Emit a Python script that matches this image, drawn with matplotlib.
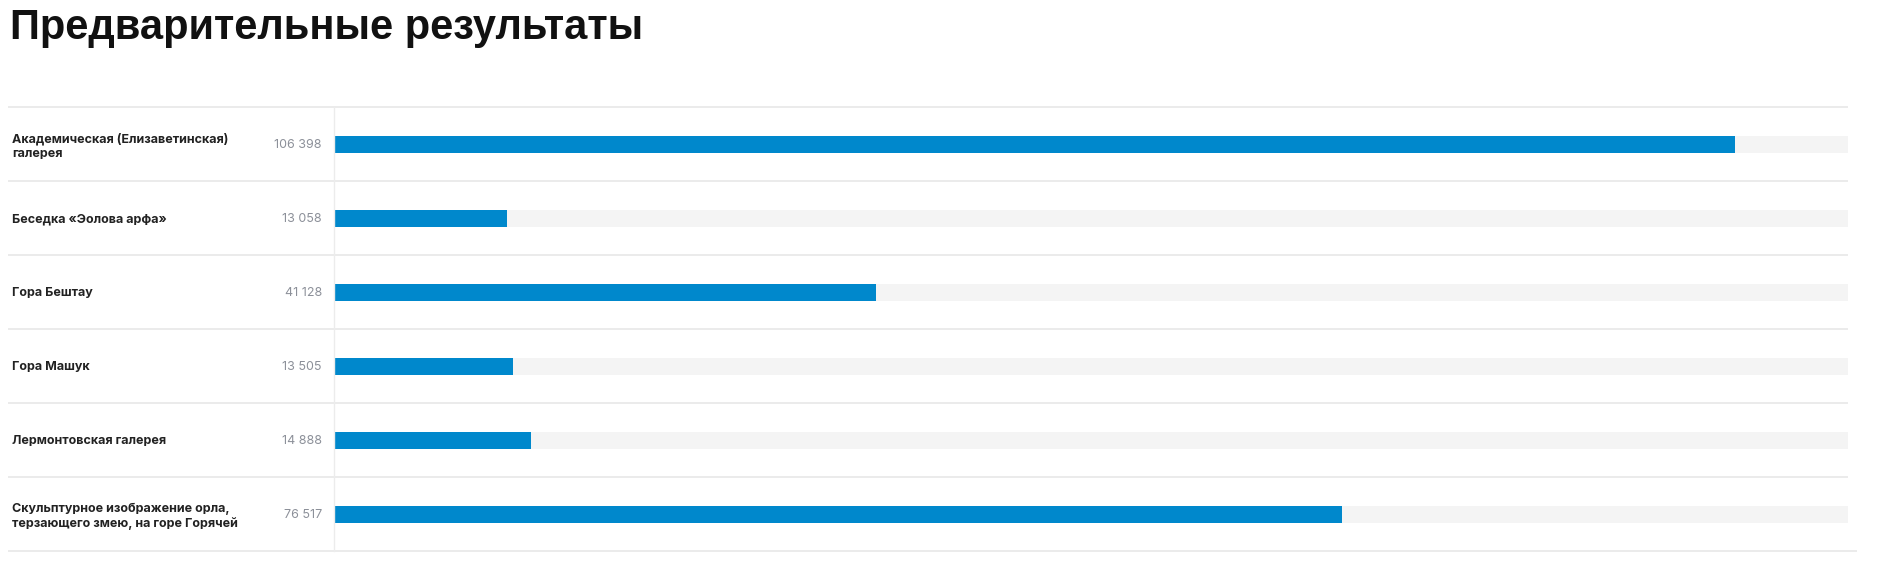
import matplotlib.pyplot as plt
import matplotlib.transforms as mtransforms
import numpy as np

# vote counts per place
places = [
    "Академическая (Елизаветинская)\nгалерея",
    "Беседка «Эолова арфа»",
    "Гора Бештау",
    "Гора Машук",
    "Лермонтовская галерея",
    "Скульптурное изображение орла,\nтерзающего змею, на горе Горячей",
]
votes = [106398, 13058, 41128, 13505, 14888, 76517]
scale_max = 115000

W, H = 1879, 579
fig = plt.figure(figsize=(W / 100, H / 100), dpi=100)

# bar area in pixels
x0, x1 = 335, 1848
ytop, ybot = 107, 551
ax = fig.add_axes([x0 / W, 1 - ybot / H, (x1 - x0) / W, (ybot - ytop) / H])
ax.set_xlim(0, scale_max)
ax.set_ylim(len(places) - 0.5, -0.5)
ax.axis("off")

y = np.arange(len(places))
bh = 17 / 74
ax.barh(y, [scale_max] * len(places), height=bh, color="#f4f4f4", left=0)
ax.barh(y, votes, height=bh, color="#0088cc", left=0)

# labels and values on the left, x in figure pixels
tr = mtransforms.blended_transform_factory(
    mtransforms.Affine2D().scale(1 / W, 1) + fig.transFigure, ax.transData)
for yi, name, v in zip(y, places, votes):
    ax.text(12, yi, name, transform=tr, ha="left", va="center_baseline",
            fontsize=9, fontweight="bold", family="Inter", color="#222222",
            linespacing=1.2, clip_on=False)
    ax.text(322, yi, f"{v:,}".replace(",", " "), transform=tr, ha="right",
            va="center_baseline", fontsize=9, family="Inter", color="#8c9099",
            clip_on=False)

# row separators
for b in np.arange(len(places) + 1) - 0.5:
    xe = 1857 if b == len(places) - 0.5 else x1
    ax.plot([8, xe], [b, b], transform=tr, color="#e8e8e8", lw=1.2,
            clip_on=False, solid_capstyle="butt")
ax.plot([334, 334], [-0.5, len(places) - 0.5], transform=tr,
        color="#ececec", lw=1, clip_on=False)

fig.text(10 / W, 1 - 38.5 / H, "Предварительные результаты", ha="left",
         va="baseline", fontsize=30, fontweight="bold",
         family="Liberation Sans", color="#111111")

fig.savefig("out.png", dpi=100, facecolor="white")
